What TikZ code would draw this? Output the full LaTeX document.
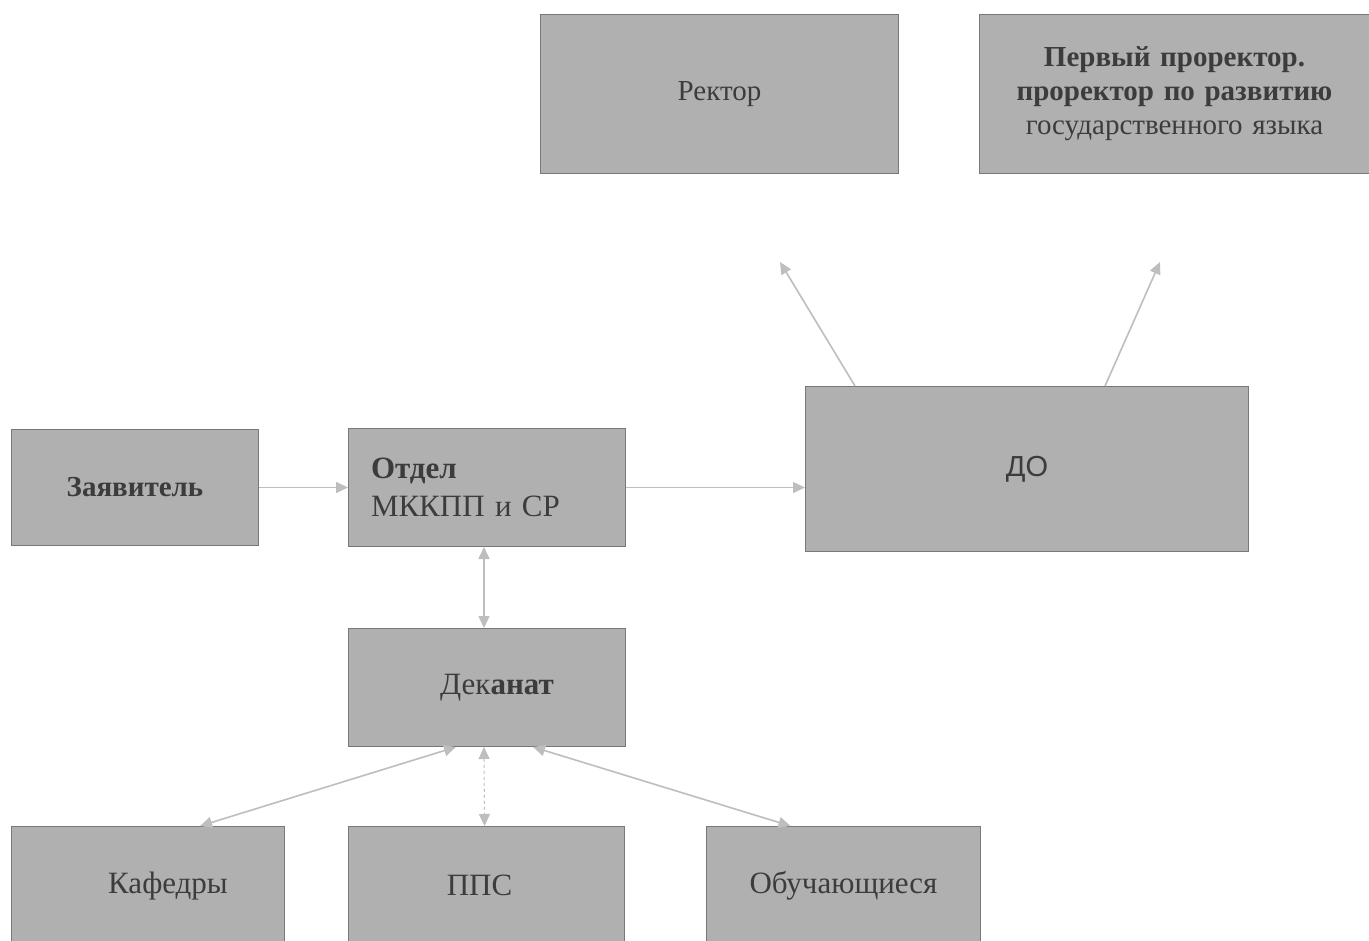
\documentclass[tikz,border=0pt]{standalone}
\usepackage{fontspec}
\setmainfont{Liberation Serif}
\newfontfamily\dosans{Liberation Sans}
\usetikzlibrary{arrows.meta}
\definecolor{boxfill}{RGB}{176,176,176}
\definecolor{boxline}{RGB}{120,120,120}
\definecolor{txt}{RGB}{60,60,60}
\definecolor{arr}{RGB}{190,190,190}
\tikzset{
  box/.style={draw=boxline, line width=1pt, fill=boxfill, anchor=north west, inner sep=0pt,
    text=txt, font=\fontsize{29}{34}\selectfont, align=center},
  bigtxt/.style={font=\fontsize{31}{36}\selectfont},
  conn/.style={draw=arr, line width=1.6pt, -{Triangle[length=12pt,width=11pt]}},
  bconn/.style={draw=arr, line width=1.6pt, {Triangle[length=12pt,width=11pt]}-{Triangle[length=12pt,width=11pt]}}
}
\begin{document}
\begin{tikzpicture}[x=1pt,y=-1pt]
\useasboundingbox (0,0) rectangle (1369,941);
\clip (0,0) rectangle (1369,941);
\fill[white] (0,0) rectangle (1369,941);

\node[box, minimum width=358pt, minimum height=159pt] (rek) at (540,14) {Ректор};
\node[box, minimum width=400pt, minimum height=159pt, text width=390pt] (perv) at (979,14)
  {\hspace*{-10pt}\textbf{Первый проректор.}\\\hspace*{-10pt}\textbf{проректор по развитию}\\\hspace*{-10pt}государственного языка};
\node[box, minimum width=247pt, minimum height=116pt] (zav) at (11,429) {\textbf{Заявитель}};
\node[box, bigtxt, minimum width=277pt, minimum height=118pt, align=left, text width=254pt] (otd) at (348,428)
  {\hspace*{11pt}\textbf{Отдел}\\[2pt]\hspace*{11pt}МККПП и СР};
\node[box, minimum width=443pt, minimum height=165pt, font=\dosans\fontsize{29}{34}\selectfont] (do) at (805,386) {ДО};
\node[box, bigtxt, minimum width=277pt, minimum height=118pt] (dek) at (348,628) {\hspace*{20pt}Дек\textbf{анат}};
\node[box, bigtxt, minimum width=273pt, minimum height=120pt] (kaf) at (11,826) {\hspace*{40pt}Кафедры};
\node[box, bigtxt, minimum width=276pt, minimum height=118pt] (pps) at (348,826) {\hspace*{-14pt}ППС};
\node[box, bigtxt, minimum width=274pt, minimum height=118pt] (obu) at (706,826) {Обучающиеся};

\coordinate (endrek) at (780,262);
\coordinate (endperv) at (1160,262);

\draw[conn] (zav.east) -- (otd.west);
\draw[conn] (otd.east) -- (otd.east -| do.west);
\draw[conn] (do.north west) ++(50,0) coordinate (s1) -- (endrek);
\draw[conn] (do.north west) ++(300,0) coordinate (s2) -- (endperv);
\draw[bconn] ([xshift=-3pt]otd.south) -- ([xshift=-3pt]dek.north);
\draw[bconn] ([xshift=-31pt]dek.south) -- ([xshift=52pt]kaf.north);
\draw[bconn, dashed, line width=1pt] ([xshift=-3pt]dek.south) -- ([xshift=-2pt]pps.north);
\draw[bconn] ([xshift=46pt]dek.south) -- ([xshift=-53pt]obu.north);
\end{tikzpicture}
\end{document}
